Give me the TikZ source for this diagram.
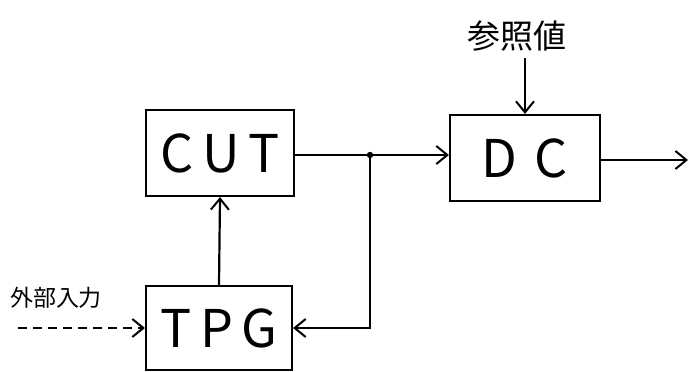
\documentclass[tikz,border=0pt]{standalone}
\usepackage{fontspec}
\newfontfamily\cjk{Noto Sans CJK JP}
\usetikzlibrary{arrows.meta}
\begin{document}
\begin{tikzpicture}[x=1pt,y=-1pt,
  blk/.style={draw,line width=2.2pt,minimum width=148pt,minimum height=86pt,inner sep=0pt,font=\cjk\fontsize{52}{52}\selectfont},
  conn/.style={line width=2.2pt,-{Straight Barb[length=11pt,width=18pt,line width=2pt]}},
  lbl/.style={font=\cjk\fontsize{33}{33}\selectfont,inner sep=0pt}]
\useasboundingbox (0,0) rectangle (689,372);
\node[blk] (cut) at (220,153) {C\,U\,T};
\node[blk,minimum width=146pt,minimum height=84pt] (tpg) at (219,328) {T\,P\,G};
\node[blk,minimum width=150pt] (dc) at (525,158) {D\,\,C};
\node[lbl] (ref) at (517,36) {参照値};
\node[lbl,font=\cjk\fontsize{23}{23}\selectfont] (ext) at (56,298) {外部入力};
\coordinate (j) at (370,155);
\coordinate (extin) at (18,328);
\coordinate (out) at (688,160);
\draw[conn] (cut.east |- j) -- (j) -- (dc.west |- j);
\fill (j) circle (3.2pt);
\draw[conn] (j) -- (j |- tpg) -- (tpg.east);
\draw[conn] (tpg.north) -- (cut.south);
\draw[conn,dashed,dash pattern=on 9pt off 6pt] (extin) -- (tpg.west);
\draw[conn] (ref.south -| dc.north) ++(0,7) -- (dc.north);
\draw[conn] (dc.east |- out) -- (out);
\end{tikzpicture}
\end{document}
